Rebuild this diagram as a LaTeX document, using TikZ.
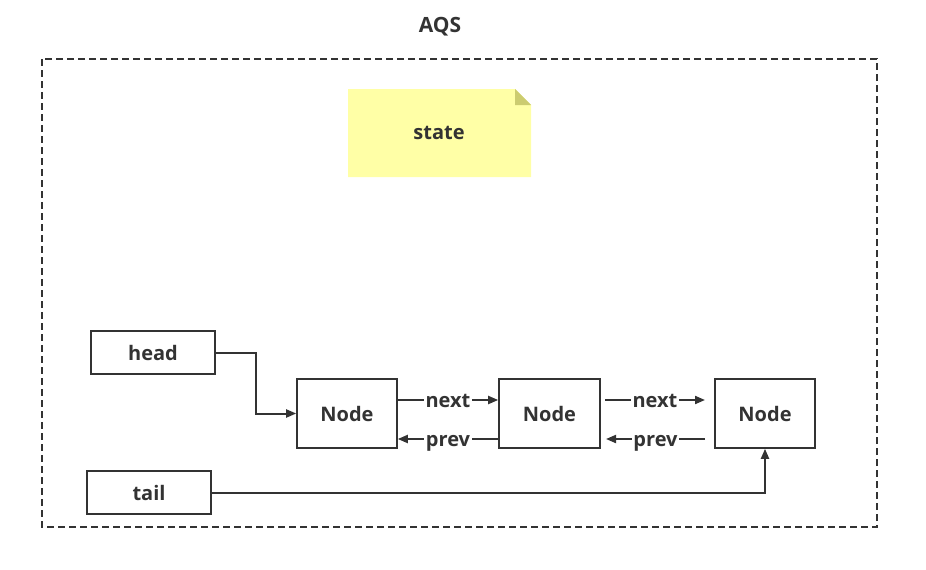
\documentclass[tikz,border=0pt]{standalone}
\usepackage{fontspec}
\setmainfont{Open Sans}
\usetikzlibrary{arrows.meta}
\definecolor{ink}{HTML}{333333}
\definecolor{notefill}{HTML}{FFFFA6}
\definecolor{notefold}{HTML}{CCCC70}
\begin{document}
\begin{tikzpicture}[x=1pt,y=-1pt,
  txt/.style={font=\bfseries\fontsize{20}{22}\selectfont,text=ink},
  box/.style={txt,draw=ink,line width=1.6pt,fill=white,inner sep=0pt},
  conn/.style={draw=ink,line width=2pt,-{Triangle[length=10pt,width=8pt]}},
  lbl/.style={txt,fill=white,inner sep=1.5pt,text height=11pt,text depth=0pt,yshift=-1.5pt}]
\useasboundingbox (0,0) rectangle (926,570);
\node[txt,font=\bfseries\fontsize{21}{23}\selectfont] (title) at (440,27) {AQS};
\draw[ink,line width=1.5pt,dash pattern=on 7pt off 4pt] (42,59) rectangle (877,527);
% note
\fill[notefill] (348,89) -- (515,89) -- (531,105) -- (531,177) -- (348,177) -- cycle;
\fill[notefold] (515,89) -- (531,105) -- (515,105) -- cycle;
\node[txt] (state) at (439,133) {state};
% boxes
\node[box,minimum width=124pt,minimum height=43pt] (head) at (153,352.5) {head};
\node[box,minimum width=124pt,minimum height=43pt] (tail) at (149,492.5) {tail};
\node[box,minimum width=100pt,minimum height=69pt] (n1) at (347,413.5) {Node};
\node[box,minimum width=101pt,minimum height=69pt] (n2) at (549.5,413.5) {Node};
\node[box,minimum width=100pt,minimum height=69pt] (n3) at (765,413.5) {Node};
% head / tail
\draw[conn] (head.east) -- (256,352.5) |- (n1.west);
\draw[conn] (tail.east) -| (n3.south);
% next / prev 1-2
\draw[conn] (n1.east |- 0,400) -- node[lbl]{next} (n2.west |- 0,400);
\draw[conn] (n2.west |- 0,439) -- node[lbl]{prev} (n1.east |- 0,439);
% next / prev 2-3
\coordinate (a) at (605,400);
\coordinate (b) at (705,400);
\coordinate (c) at (705,439);
\coordinate (d) at (606,439);
\draw[conn] (a) -- node[lbl]{next} (b);
\draw[conn] (c) -- node[lbl]{prev} (d);
\end{tikzpicture}
\end{document}
